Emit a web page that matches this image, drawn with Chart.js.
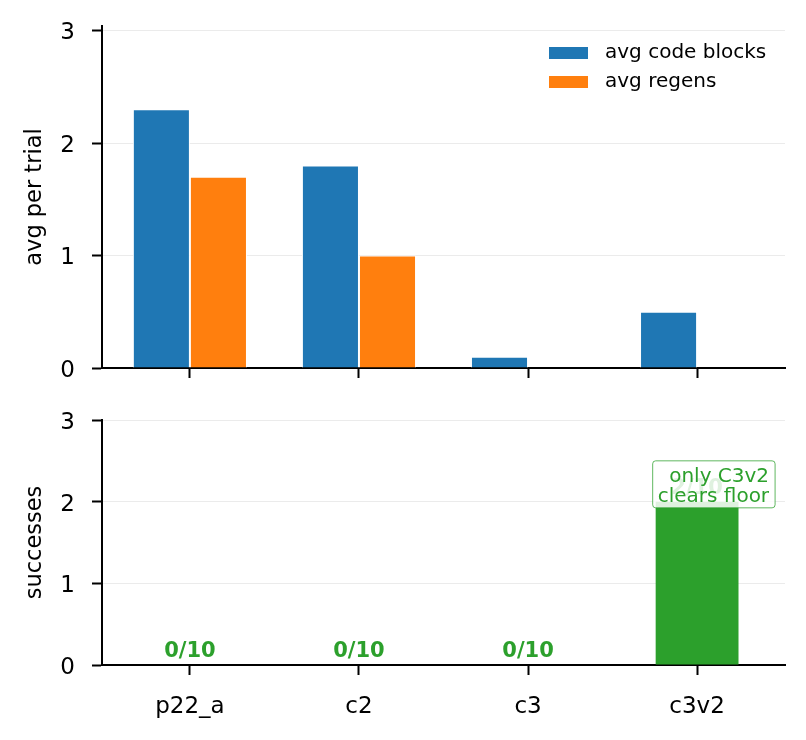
<!DOCTYPE html>
<html lang="en">
<head>
<meta charset="UTF-8">
<title>avg per trial / successes</title>
<style>
  body { margin: 0; background: #fff; }
  #wrap { position: relative; width: 806px; height: 740px; }
  #topBox { position: absolute; left: 0; top: 0; width: 806px; height: 380px; }
  #botBox { position: absolute; left: 0; top: 380px; width: 806px; height: 360px; }
</style>
<script src="https://cdn.jsdelivr.net/npm/chart.js"></script>
</head>
<body>
<div id="wrap">
  <div id="topBox"><canvas id="topChart"></canvas></div>
  <div id="botBox"><canvas id="botChart"></canvas></div>
</div>
<script>
const categories = ['p22_a', 'c2', 'c3', 'c3v2'];
const avgCodeBlocks = [2.3, 1.8, 0.1, 0.5];
const avgRegens = [1.7, 1.0, 0, 0];
const successes = [0, 0, 0, 2];
const trials = [10, 10, 10, 10];
const yTicks = [0, 1, 2, 3];
const noteLines = ['only C3v2', 'clears floor'];

const FONT = "'DejaVu Sans', sans-serif";
const BLUE = '#1f77b4', ORANGE = '#ff7f0e', GREEN = '#2ca02c';

Chart.defaults.font.family = FONT;
Chart.defaults.color = '#000';

function xAxis(showLabels) {
    return {
        type: 'linear',
        min: -0.52,
        max: 3.52,
        offset: false,
        afterBuildTicks: s => { s.ticks = categories.map((c, i) => ({ value: i })); },
        afterFit: s => { s.height = showLabels ? 75 : 12; },
        grid: { offset: false, drawOnChartArea: false, tickLength: 10, tickColor: '#000', tickWidth: 2 },
        border: { color: '#000', width: 2 },
        ticks: {
            display: showLabels,
            padding: 18,
            font: { size: 23 },
            maxRotation: 0,
            autoSkip: false,
            callback: v => categories[v] ?? ''
        }
    };
}

function yAxis(max, title) {
    return {
        min: 0,
        max: max,
        afterBuildTicks: s => { s.ticks = yTicks.map(v => ({ value: v })); },
        afterFit: s => {
            s.width = 102;
            // labels may hang over the plot edges; keep the plot box fixed
            s.paddingTop = 0;
            s.paddingBottom = 0;
        },
        grid: { color: '#ebebeb', lineWidth: 1, tickLength: 10, tickColor: '#000', tickWidth: 2 },
        border: { color: '#000', width: 2 },
        ticks: { padding: 17, labelOffset: 3, font: { size: 23 } },
        title: { display: true, text: title, font: { size: 22.5 }, padding: { top: 22, bottom: 0 } }
    };
}

// legend drawn inside the plot, top right
const cornerLegend = {
    id: 'cornerLegend',
    afterDraw(chart) {
        const ctx = chart.ctx;
        const right = chart.chartArea.right;
        ctx.save();
        ctx.font = '20px ' + FONT;
        ctx.textBaseline = 'middle';
        chart.data.datasets.forEach((ds, i) => {
            const y = 53 + i * 29;
            ctx.fillStyle = ds.backgroundColor;
            ctx.fillRect(right - 236, y - 6, 39, 12);
            ctx.fillStyle = '#000';
            ctx.fillText(ds.label, right - 180, y);
        });
        ctx.restore();
    }
};

const barNotes = {
    id: 'barNotes',
    afterDatasetsDraw(chart) {
        const { ctx, scales: { x, y } } = chart;
        ctx.save();
        ctx.font = 'bold 21px ' + FONT;
        ctx.fillStyle = GREEN;
        ctx.textAlign = 'center';
        ctx.textBaseline = 'alphabetic';
        successes.forEach((s, i) => {
            ctx.fillText(s + '/' + trials[i], x.getPixelForValue(i), y.getPixelForValue(s) - 8);
        });

        // annotation box over the c3v2 bar
        ctx.font = '20px ' + FONT;
        const w = Math.max(...noteLines.map(t => ctx.measureText(t).width)) + 11;
        const h = 47;
        const right = x.getPixelForValue(3) + 78;
        const top = y.getPixelForValue(2.5);
        ctx.beginPath();
        ctx.roundRect(right - w, top, w, h, 3);
        ctx.fillStyle = 'rgba(255,255,255,0.85)';
        ctx.fill();
        ctx.strokeStyle = 'rgba(44,160,44,0.75)';
        ctx.lineWidth = 1;
        ctx.stroke();
        ctx.fillStyle = GREEN;
        ctx.textAlign = 'right';
        noteLines.forEach((t, i) => ctx.fillText(t, right - 6, top + 21 + i * 20));
        ctx.restore();
    }
};

new Chart(document.getElementById('topChart'), {
    type: 'bar',
    data: {
        datasets: [
            {
                label: 'avg code blocks',
                data: avgCodeBlocks.map((v, i) => ({ x: i, y: v })),
                backgroundColor: BLUE,
                borderColor: '#fff',
                borderWidth: 1,
                categoryPercentage: 0.675,
                barPercentage: 1
            },
            {
                label: 'avg regens',
                data: avgRegens.map((v, i) => ({ x: i, y: v })),
                backgroundColor: ORANGE,
                borderColor: '#fff',
                borderWidth: 1,
                categoryPercentage: 0.675,
                barPercentage: 1
            }
        ]
    },
    options: {
        responsive: true,
        maintainAspectRatio: false,
        animation: false,
        layout: { padding: { top: 26, right: 21, left: 0, bottom: 0 } },
        scales: { x: xAxis(false), y: yAxis(3.04, 'avg per trial') },
        plugins: { legend: { display: false }, tooltip: { enabled: false } }
    },
    plugins: [cornerLegend]
});

new Chart(document.getElementById('botChart'), {
    type: 'bar',
    data: {
        datasets: [{
            label: 'successes',
            data: successes.map((v, i) => ({ x: i, y: v })),
            backgroundColor: GREEN,
            borderWidth: 0,
            categoryPercentage: 0.49,
            barPercentage: 1
        }]
    },
    options: {
        responsive: true,
        maintainAspectRatio: false,
        animation: false,
        layout: { padding: { top: 40, right: 21, left: 0, bottom: 0 } },
        scales: { x: xAxis(true), y: yAxis(3, 'successes') },
        plugins: { legend: { display: false }, tooltip: { enabled: false } }
    },
    plugins: [barNotes]
});
</script>
</body>
</html>
